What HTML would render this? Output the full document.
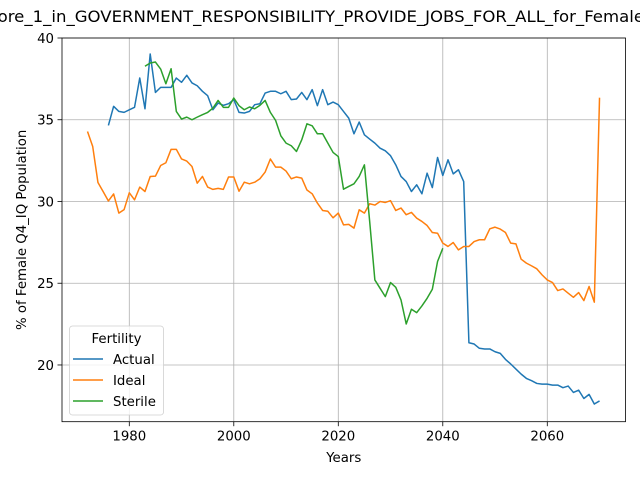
<!DOCTYPE html>
<html><head><meta charset="utf-8"><style>
body{margin:0;background:#fff;}
svg{display:block;font-family:"DejaVu Sans","Liberation Sans",sans-serif;}
</style></head><body>
<svg id="chart" width="640" height="480" viewBox="0 0 640 480" xmlns="http://www.w3.org/2000/svg">
<text x="311" y="22" font-size="16" text-anchor="middle" textLength="666" lengthAdjust="spacingAndGlyphs">Score_1_in_GOVERNMENT_RESPONSIBILITY_PROVIDE_JOBS_FOR_ALL_for_Female</text>
<g id="grid"></g><g id="series"></g><g id="axes"></g>
</svg>
<script>
const xTicks=[1980,2000,2020,2040,2060];
const yTicks=[20,25,30,35,40];
const actualStart=1976;
const actualValues=[34.65,35.82,35.51,35.45,35.61,35.76,37.55,35.67,39.02,36.67,36.98,36.98,36.98,37.55,37.29,37.72,37.25,37.08,36.74,36.47,35.61,36.02,35.88,35.98,36.23,35.45,35.41,35.51,35.92,35.98,36.63,36.74,36.74,36.59,36.74,36.23,36.27,36.67,36.23,36.84,35.86,36.84,35.92,36.08,35.92,35.51,35.1,34.14,34.86,34.08,33.82,33.57,33.26,33.1,32.8,32.24,31.53,31.22,30.61,31.02,30.47,31.73,30.85,32.69,31.59,32.55,31.69,31.94,31.22,21.36,21.28,21.02,20.98,20.98,20.81,20.71,20.34,20.06,19.75,19.44,19.18,19.04,18.87,18.83,18.83,18.77,18.77,18.61,18.71,18.32,18.46,17.95,18.2,17.61,17.8];
const idealStart=1972;
const idealValues=[34.28,33.36,31.16,30.6,30.03,30.46,29.29,29.5,30.53,30.1,30.88,30.61,31.53,31.55,32.2,32.37,33.19,33.19,32.6,32.47,32.14,31.12,31.53,30.88,30.74,30.8,30.74,31.5,31.5,30.63,31.18,31.08,31.18,31.39,31.8,32.6,32.1,32.1,31.86,31.39,31.5,31.43,30.7,30.47,29.9,29.45,29.4,29.0,29.29,28.57,28.6,28.37,29.49,29.29,29.86,29.78,30.0,29.94,30.05,29.45,29.6,29.19,29.33,28.98,28.78,28.53,28.1,28.06,27.45,27.25,27.49,27.04,27.25,27.25,27.55,27.66,27.66,28.33,28.43,28.31,28.1,27.45,27.41,26.47,26.23,26.06,25.88,25.51,25.2,25.04,24.55,24.65,24.39,24.14,24.43,23.94,24.8,23.84,36.35];
const sterileStart=1983;
const sterileValues=[38.27,38.47,38.53,38.1,37.2,38.12,35.51,35.04,35.16,35.0,35.16,35.31,35.45,35.71,36.18,35.76,35.76,36.33,35.86,35.61,35.78,35.67,35.88,36.18,35.45,34.96,34.02,33.57,33.41,33.06,33.77,34.75,34.63,34.14,34.14,33.57,33.0,32.75,30.75,30.92,31.08,31.53,32.24,28.8,25.2,24.69,24.18,25.04,24.75,23.98,22.51,23.41,23.2,23.61,24.08,24.63,26.33,27.14];

const L=62,R=625.5,T=38,B=421.7;
const xMin=1967.12,xMax=2074.97,yMin=16.53,yMax=40.0;
const sx=v=>L+(v-xMin)/(xMax-xMin)*(R-L);
const sy=v=>B-(v-yMin)/(yMax-yMin)*(B-T);
const NS="http://www.w3.org/2000/svg";
function mk(tag,attrs,parent){const e=document.createElementNS(NS,tag);for(const k in attrs)e.setAttribute(k,attrs[k]);parent.appendChild(e);return e;}
const grid=document.getElementById('grid'),series=document.getElementById('series'),axes=document.getElementById('axes');
xTicks.forEach(t=>{
  const g=mk('line',{x1:sx(t),x2:sx(t),y1:T,y2:B,stroke:'#b0b0b0','stroke-width':0.8},grid);
  
  
  const tk=mk('line',{x1:sx(t),x2:sx(t),y1:B,y2:B+4.5,stroke:'#000','stroke-width':0.8},axes);
  
  
  const tx=mk('text',{x:sx(t),y:B+19,'font-size':13.3,'text-anchor':'middle'},axes);
  tx.textContent=t;
  
  
});
yTicks.forEach(t=>{
  const g=mk('line',{x1:L,x2:R,y1:sy(t),y2:sy(t),stroke:'#b0b0b0','stroke-width':0.8},grid);
  
  
  const tk=mk('line',{x1:L-4.5,x2:L,y1:sy(t),y2:sy(t),stroke:'#000','stroke-width':0.8},axes);
  
  
  const tx=mk('text',{x:L-8,y:sy(t)+5,'font-size':13.3,'text-anchor':'end'},axes);
  tx.textContent=t;
  
  
});
function drawSeries(start,vals,color,name){
  const pts=vals.map((v,i)=>sx(start+i).toFixed(2)+','+sy(v).toFixed(2)).join(' ');
  const p=mk('polyline',{points:pts,fill:'none',stroke:color,'stroke-width':1.5,'stroke-linejoin':'round'},series);
  
  
}
drawSeries(actualStart,actualValues,'#1f77b4','actual-line');
drawSeries(idealStart,idealValues,'#ff7f0e','ideal-line');
drawSeries(sterileStart,sterileValues,'#2ca02c','sterile-line');
const fr=mk('rect',{x:L,y:T,width:R-L,height:B-T,fill:'none',stroke:'#000','stroke-width':0.8},axes);


const xl=mk('text',{x:(L+R)/2,y:462,'font-size':13.3,'text-anchor':'middle'},axes);
xl.textContent='Years';


const yl=mk('text',{x:0,y:0,'font-size':13.3,'text-anchor':'middle',transform:'translate(26,'+((T+B)/2)+') rotate(-90)'},axes);
yl.textContent='% of Female Q4_IQ Population';


const lg=mk('g',{},axes);


mk('rect',{x:69.5,y:326,width:94,height:89,rx:3,fill:'#fff','fill-opacity':0.8,stroke:'#d0d0d0','stroke-width':0.8},lg);
const lt=mk('text',{x:116.5,y:343,'font-size':13.3,'text-anchor':'middle'},lg);
lt.textContent='Fertility';


[['Actual','#1f77b4',359],['Ideal','#ff7f0e',380],['Sterile','#2ca02c',401]].forEach(([n,c,y])=>{
  const e=mk('g',{},lg);
  
  
  mk('line',{x1:73,x2:103,y1:y,y2:y,stroke:c,'stroke-width':1.5},e);
  const t=mk('text',{x:113,y:y+5,'font-size':13.3},e);
  t.textContent=n;
});
</script>
</body></html>
